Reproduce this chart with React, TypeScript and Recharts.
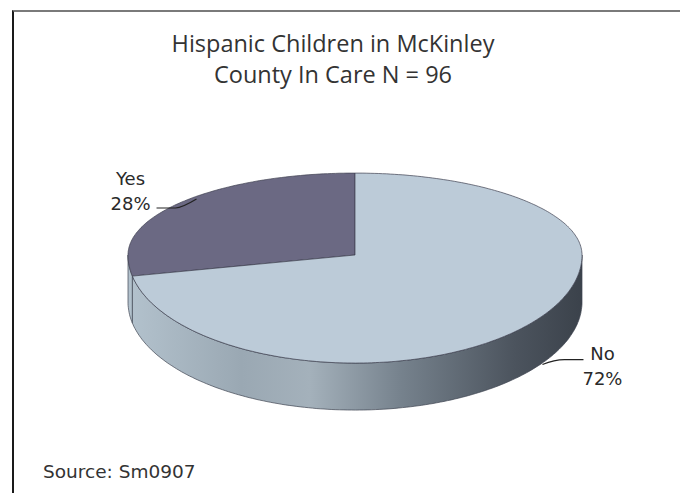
import { PieChart, Pie, Cell } from "recharts";

// Hispanic children in care, McKinley County (N = 96)
const categories = ["Yes", "No"];
const counts = [27, 69];
const sliceColors = ["#6b6983", "#bccbd8"];

const title = ["Hispanic Children in McKinley", "County In Care N = 96"];
const source = "Source: Sm0907";

const chartData = categories.map((name, i) => ({ name, value: counts[i] }));

// fake 3d: squashed ellipse, front half deeper than back half
const BACK = 0.361;
const FRONT = 0.476;
const DEPTH = 47;

function edge(cx: number, cy: number, r: number, deg: number): [number, number] {
  const rad = (deg * Math.PI) / 180;
  const s = Math.sin(rad);
  return [cx + r * Math.cos(rad), cy - r * (s > 0 ? BACK : FRONT) * s];
}

function arcPoints(cx: number, cy: number, r: number, a0: number, a1: number) {
  const pts: [number, number][] = [];
  const n = Math.max(2, Math.ceil(Math.abs(a1 - a0)));
  for (let i = 0; i <= n; i++) pts.push(edge(cx, cy, r, a0 + ((a1 - a0) * i) / n));
  return pts;
}

const toPath = (pts: number[][]) => pts.map((p) => p[0].toFixed(1) + "," + p[1].toFixed(1)).join(" L");

function Slab(props: any) {
  const { cx, cy, outerRadius, fill } = props;
  const s = Math.min(props.startAngle, props.endAngle);
  const e = Math.max(props.startAngle, props.endAngle);

  const sides: string[] = [];
  for (const k of [0, 360]) {
    const lo = Math.max(s, 180 + k);
    const hi = Math.min(e, 360 + k);
    if (hi > lo) {
      const upper = arcPoints(cx, cy, outerRadius, lo, hi);
      const lower = upper.map(([x, y]) => [x, y + DEPTH]).reverse();
      sides.push("M" + toPath([...upper, ...lower]) + " Z");
    }
  }

  const rim = arcPoints(cx, cy, outerRadius, s, e);
  const top = `M${cx},${cy} L` + toPath(rim) + " Z";

  return (
    <g>
      {sides.map((d, i) => (
        <path key={i} d={d} fill="url(#sideGrad)" stroke="#3d4450" strokeWidth={0.7} />
      ))}
      <path d={top} fill={fill} stroke="#3f4050" strokeWidth={0.7} />
    </g>
  );
}

function SliceLabel(props: any) {
  const { cx, cy, outerRadius, midAngle, percent, name } = props;
  const [x, y] = edge(cx, cy, outerRadius, midAngle);
  const pct = `${Math.round(percent * 100)}%`;
  const txt = { fontFamily: "DejaVu Sans", fontSize: 18, fill: "#2a2a2a" };

  if (Math.cos((midAngle * Math.PI) / 180) < 0) {
    // left label, leader into the top face
    return (
      <g>
        <path d={`M${x + 17},${y - 4} Q${x + 2},${y + 5} ${x - 4},${y + 5} L${x - 23},${y + 5}`} fill="none" stroke="#222" strokeWidth={1.2} />
        <text x={x - 49} y={y - 18} textAnchor="middle" {...txt}>{name}</text>
        <text x={x - 49} y={y + 7} textAnchor="middle" {...txt}>{pct}</text>
      </g>
    );
  }
  // right label, leader into the side wall
  return (
    <g>
      <path d={`M${x + 12},${y + 41} Q${x + 24},${y + 36} ${x + 34},${y + 36} L${x + 53},${y + 36}`} fill="none" stroke="#222" strokeWidth={1.2} />
      <text x={x + 72} y={y + 36} textAnchor="middle" {...txt}>{name}</text>
      <text x={x + 72} y={y + 61} textAnchor="middle" {...txt}>{pct}</text>
    </g>
  );
}

export default function App() {
  return (
    <div style={{ position: "absolute", left: 0, top: 0, width: 680, height: 493, background: "#fff", overflow: "hidden" }}>
      <div
        style={{
          position: "absolute",
          left: 12,
          top: 10,
          width: 700,
          height: 520,
          borderTop: "2px solid #7a7a7a",
          borderLeft: "2px solid #1a1a1a",
        }}
      />
      <PieChart
        width={680}
        height={493}
        margin={{ top: 0, right: 0, bottom: 0, left: 0 }}
        style={{ position: "absolute", left: 0, top: 0 }}
      >
        <defs>
          <linearGradient id="sideGrad" gradientUnits="userSpaceOnUse" x1={128} y1={0} x2={582} y2={0}>
            <stop offset="0" stopColor="#b3c2cd" />
            <stop offset="0.25" stopColor="#9aa8b3" />
            <stop offset="0.4" stopColor="#a4b1bb" />
            <stop offset="0.6" stopColor="#76828d" />
            <stop offset="0.85" stopColor="#4c545e" />
            <stop offset="1" stopColor="#3b424b" />
          </linearGradient>
        </defs>
        <Pie
          data={chartData}
          dataKey="value"
          nameKey="name"
          cx={355}
          cy={255}
          outerRadius={227}
          startAngle={90}
          endAngle={450}
          stroke="none"
          shape={Slab}
          inactiveShape={Slab}
          activeShape={Slab}
          label={SliceLabel}
          labelLine={false}
          isAnimationActive={false}
        >
          {chartData.map((d, i) => (
            <Cell key={d.name} fill={sliceColors[i]} />
          ))}
        </Pie>
        {title.map((t, i) => (
          <text
            key={t}
            x={333}
            y={52 + i * 31}
            textAnchor="middle"
            fontFamily="Open Sans"
            fontSize={23.5}
            fill="#333"
          >
            {t}
          </text>
        ))}
        <text x={43} y={478} fontFamily="DejaVu Sans" fontSize={18.5} fill="#333">
          {source}
        </text>
      </PieChart>
    </div>
  );
}
